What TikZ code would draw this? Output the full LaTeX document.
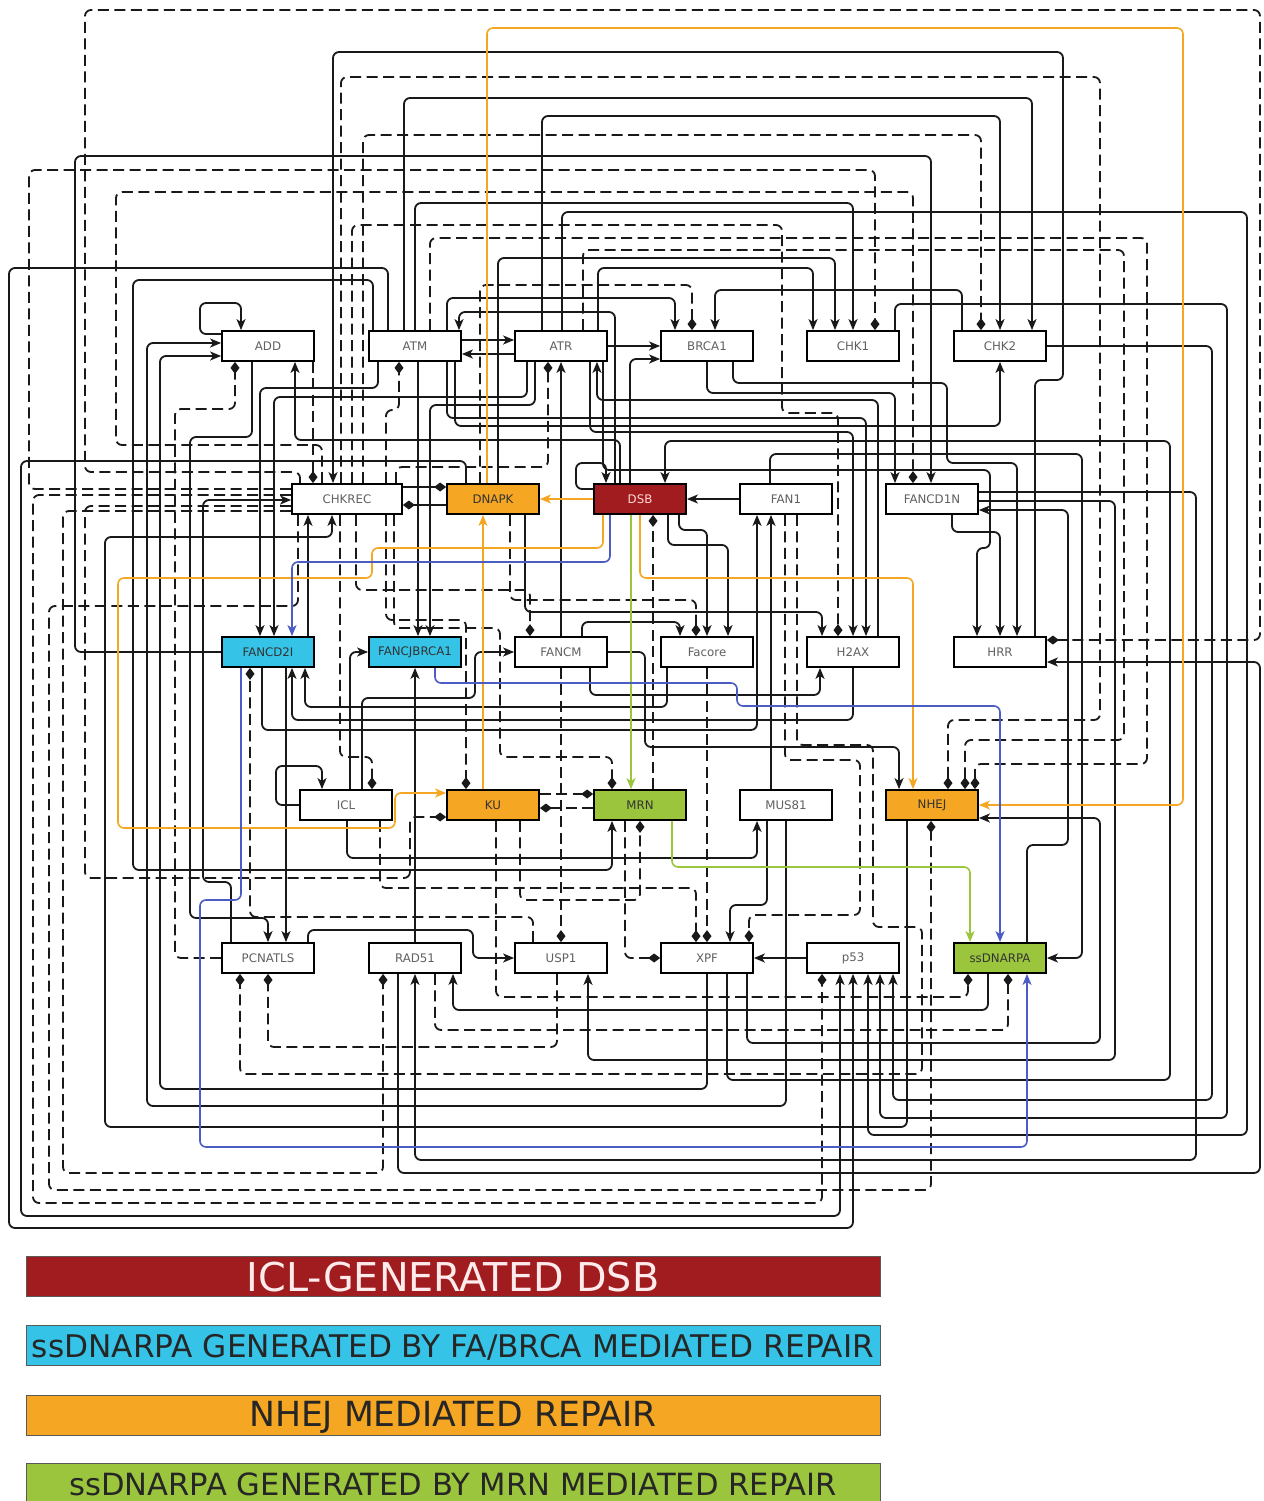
\documentclass[tikz,border=0pt]{standalone}
\usepackage{fontspec}
\newfontfamily\dv{DejaVu Sans}
\usetikzlibrary{arrows.meta,backgrounds}
\definecolor{dsbred}{HTML}{A01C1E}
\definecolor{orng}{HTML}{F5A623}
\definecolor{cyn}{HTML}{35C3E8}
\definecolor{grn}{HTML}{9BC53D}
\definecolor{blu}{HTML}{4B5CC4}
\definecolor{txtgray}{HTML}{606060}
\tikzset{
  nbox/.style={draw=black,line width=1.8pt,fill=white,minimum width=92pt,minimum height=30pt,inner sep=0pt,
    font=\dv\fontsize{11.8}{12}\selectfont,text=txtgray},
  e/.style={line width=1.8pt,rounded corners=6pt,black!90},
  d/.style={e,dash pattern=on 11pt off 5.5pt},
  act/.style={-{Stealth[length=11pt,width=9pt,inset=3pt]}},
  inh/.style={-{Diamond[length=12pt,width=9pt]}},
  og/.style={e,orng,line width=1.6pt,act},
  bl/.style={e,blu,line width=1.6pt,act},
  gr/.style={e,grn,line width=1.6pt,act},
  legbar/.style={draw=gray!70!black,line width=1pt,minimum width=854pt,minimum height=40pt,inner sep=0pt},
}
\begin{document}
\begin{tikzpicture}[x=1pt,y=-1pt]
\useasboundingbox (0,0) rectangle (1263,1501);
% nodes
\node[nbox] (ADD) at (268,346) {ADD};
\node[nbox] (ATM) at (415,346) {ATM};
\node[nbox] (ATR) at (561,346) {ATR};
\node[nbox] (BRCA1) at (707,346) {BRCA1};
\node[nbox] (CHK1) at (853,346) {CHK1};
\node[nbox] (CHK2) at (1000,346) {CHK2};
\node[nbox,minimum width=110pt] (CHKREC) at (347,499) {CHKREC};
\node[nbox,fill=orng,text=black!80] (DNAPK) at (493,499) {DNAPK};
\node[nbox,fill=dsbred,text=red!15] (DSB) at (640,499) {DSB};
\node[nbox] (FAN1) at (786,499) {FAN1};
\node[nbox] (FANCD1N) at (932,499) {FANCD1N};
\node[nbox,fill=cyn,text=black!80] (FANCD2I) at (268,652) {FANCD2I};
\node[nbox,fill=cyn,text=black!80] (FANCJBRCA1) at (415,652) {FANCJBRCA1};
\node[nbox] (FANCM) at (561,652) {FANCM};
\node[nbox] (Facore) at (707,652) {Facore};
\node[nbox] (H2AX) at (853,652) {H2AX};
\node[nbox] (HRR) at (1000,652) {HRR};
\node[nbox] (ICL) at (346,805) {ICL};
\node[nbox,fill=orng,text=black!80] (KU) at (493,805) {KU};
\node[nbox,fill=grn,text=black!80] (MRN) at (640,805) {MRN};
\node[nbox] (MUS81) at (786,805) {MUS81};
\node[nbox,fill=orng,text=black!80] (NHEJ) at (932,805) {NHEJ};
\node[nbox] (PCNATLS) at (268,958) {PCNATLS};
\node[nbox] (RAD51) at (415,958) {RAD51};
\node[nbox] (USP1) at (561,958) {USP1};
\node[nbox] (XPF) at (707,958) {XPF};
\node[nbox] (p53) at (853,958) {p53};
\node[nbox,fill=grn,text=black!80] (ssDNARPA) at (1000,958) {ssDNARPA};

\begin{scope}[on background layer]
\fill[white] (0,0) rectangle (1263,1501);
% ---- top loops
\draw[d,inh] (300,0 |- CHKREC.north) -- (300,472) -- (85,472) -- (85,10) -- (1260,10) -- (1260,640) -- (HRR.east |- 0,640);
\draw[e,act] (1035,0 |- HRR.north) -- (1035,380) -- (1063,380) -- (1063,52) -- (333,52) -- (333,0 |- CHKREC.north);
\draw[d,inh] (341,0 |- CHKREC.north) -- (341,77) -- (1100,77) -- (1100,720) -- (948,720) -- (948,0 |- NHEJ.north);
\draw[e,act] (404,0 |- ATM.north) -- (404,98) -- (1032,98) -- (1032,0 |- CHK2.north);
\draw[e,act] (542,0 |- ATR.north) -- (542,116) -- (1000,116) -- (CHK2.north);
\draw[d,inh] (363,0 |- CHKREC.north) -- (363,135) -- (981,135) -- (981,0 |- CHK2.north);
\draw[e,act] (FANCD2I.west) -- (75,652) -- (75,156) -- (931,156) -- (931,0 |- FANCD1N.north);
\draw[d,inh] (CHKREC.west |- 0,489) -- (29,489) -- (29,170) -- (875,170) -- (875,0 |- CHK1.north);
\draw[d,inh] (322,0 |- CHKREC.north) -- (322,445) -- (116,445) -- (116,192) -- (913,192) -- (913,0 |- FANCD1N.north);
\draw[e,act] (415,0 |- ATM.north) -- (415,203) -- (853,203) -- (CHK1.north);
\draw[e,act] (562,0 |- ATR.north) -- (562,212) -- (1247,212) -- (1247,1135) -- (868,1135) -- (868,0 |- p53.south);
\draw[d,inh] (352,0 |- CHKREC.north) -- (352,225) -- (782,225) -- (782,413) -- (838,413) -- (838,0 |- H2AX.north);
\draw[d,inh] (583,0 |- ATR.north) -- (583,250) -- (1124,250) -- (1124,740) -- (965,740) -- (965,0 |- NHEJ.north);
\draw[d,inh] (430,0 |- ATM.north) -- (430,238) -- (1147,238) -- (1147,764) -- (975,764) -- (975,0 |- NHEJ.north);
\draw[e,act] (498,0 |- DNAPK.north) -- (498,258) -- (835,258) -- (835,0 |- CHK1.north);
\draw[e,act] (598,0 |- ATR.north) -- (598,268) -- (813,268) -- (813,0 |- CHK1.north);
\draw[e,act] (388,0 |- ATM.north) -- (388,268) -- (9,268) -- (9,1228) -- (853,1228) -- (p53.south);
\draw[e,act] (373,0 |- ATM.north) -- (373,280) -- (133,280) -- (133,870) -- (612,870) -- (612,0 |- MRN.south);
\draw[d,inh] (480,0 |- DNAPK.north) -- (480,285) -- (692,285) -- (692,0 |- BRCA1.north);
\draw[e,act] (962,0 |- CHK2.north) -- (962,290) -- (715,290) -- (715,0 |- BRCA1.north);
\draw[e,act] (447,0 |- ATM.north) -- (447,298) -- (675,298) -- (675,0 |- BRCA1.north);
\draw[e,act] (895,0 |- CHK1.north) -- (895,304) -- (1227,304) -- (1227,1118) -- (880,1118) -- (880,0 |- p53.south);
\draw[e,act] (CHK2.east) -- (1212,346) -- (1212,1100) -- (893,1100) -- (893,0 |- p53.south);
% ---- row 1 / row 2 local
\draw[e,act] (615,0 |- DSB.north) -- (615,312) -- (459,312) -- (459,0 |- ATM.north);
\draw[e,act] (620,0 |- DSB.north) -- (620,440) -- (295,440) -- (295,0 |- ADD.south);
\draw[e,act] (630,0 |- DSB.north) -- (630,359) -- (BRCA1.west |- 0,359);
\draw[e,act] (DSB.west |- 0,489) -- (576,489) -- (576,463) -- (606,463) -- (606,0 |- DSB.north);
\draw[e,act] (ADD.west |- 0,334) -- (200,334) -- (200,303) -- (241,303) -- (241,0 |- ADD.north);
\draw[e,act] (ATM.east |- 0,340) -- (ATR.west |- 0,340);
\draw[e,act] (ATR.west |- 0,354) -- (ATM.east |- 0,354);
\draw[e,act] (ATR.east |- 0,346) -- (BRCA1.west |- 0,346);
\draw[e,act] (FAN1.west) -- (DSB.east);
\draw[d,inh] (313,0 |- ADD.south) -- (313,0 |- CHKREC.north);
\draw[d,inh] (386,0 |- CHKREC.north) -- (386,410) -- (399,410) -- (399,0 |- ATM.south);
\draw[d,inh] (396,0 |- CHKREC.north) -- (396,467) -- (548,467) -- (548,0 |- ATR.south);
\draw[e,inh] (CHKREC.east |- 0,487) -- (DNAPK.west |- 0,487);
\draw[e,inh] (DNAPK.west |- 0,505) -- (CHKREC.east |- 0,505);
\draw[e,act] (418,0 |- ATM.south) -- (418,0 |- FANCJBRCA1.north);
\draw[e,act] (535,0 |- ATR.south) -- (535,405) -- (430,405) -- (430,0 |- FANCJBRCA1.north);
\draw[e,act] (527,0 |- ATR.south) -- (527,397) -- (274,397) -- (274,0 |- FANCD2I.north);
\draw[e,act] (378,0 |- ATM.south) -- (378,388) -- (260,388) -- (260,0 |- FANCD2I.north);
\draw[e,act] (447,0 |- ATM.south) -- (447,418) -- (866,418) -- (866,0 |- H2AX.north);
\draw[e,act] (590,0 |- ATR.south) -- (590,432) -- (853,432) -- (853,0 |- H2AX.north);
\draw[e,act] (525,0 |- DNAPK.south) -- (525,612) -- (822,612) -- (822,0 |- H2AX.north);
\draw[e,act] (455,0 |- ATM.south) -- (455,426) -- (1000,426) -- (1000,0 |- CHK2.south);
\draw[e,act] (878,0 |- H2AX.north) -- (878,400) -- (597,400) -- (597,0 |- ATR.south);
\draw[e,act] (707,0 |- BRCA1.south) -- (707,393) -- (895,393) -- (895,0 |- FANCD1N.north);
\draw[e,act] (733,0 |- BRCA1.south) -- (733,383) -- (947,383) -- (947,463) -- (1017,463) -- (1017,0 |- HRR.north);
\draw[e,act] (952,0 |- FANCD1N.south) -- (952,532) -- (1000,532) -- (1000,0 |- HRR.north);
\draw[e,act] (603,0 |- ATR.south) -- (603,470) -- (990,470) -- (990,548) -- (977,548) -- (977,0 |- HRR.north);
\draw[e,act] (561,0 |- FANCM.north) -- (561,0 |- ATR.south);
\draw[e,act] (582,0 |- FANCM.north) -- (582,622) -- (680,622) -- (680,0 |- Facore.north);
\draw[d,inh] (510,0 |- DNAPK.south) -- (510,600) -- (696,600) -- (696,0 |- Facore.north);
\draw[e,act] (679,0 |- DSB.south) -- (679,530) -- (707,530) -- (707,0 |- Facore.north);
\draw[e,act] (668,0 |- DSB.south) -- (668,545) -- (728,545) -- (728,0 |- Facore.north);
\draw[d,inh] (653,0 |- MRN.north) -- (653,0 |- DSB.south);
\draw[d,inh] (356,0 |- CHKREC.south) -- (356,590) -- (530,590) -- (530,0 |- FANCM.north);
% ---- left side / CHKREC
\draw[e,act] (231,0 |- PCNATLS.north) -- (231,882) -- (203,882) -- (203,500) -- (CHKREC.west |- 0,500);
\draw[d,inh] (CHKREC.west |- 0,495) -- (33,495) -- (33,1203) -- (822,1203) -- (822,0 |- p53.south);
\draw[d,inh] (CHKREC.west |- 0,506) -- (85,506) -- (85,878) -- (410,878) -- (410,817) -- (KU.west |- 0,817);
\draw[d,inh] (CHKREC.west |- 0,511) -- (63,511) -- (63,1173) -- (383,1173) -- (383,0 |- RAD51.south);
\draw[d,inh] (298,0 |- CHKREC.south) -- (298,606) -- (49,606) -- (49,1190) -- (931,1190) -- (931,0 |- NHEJ.south);
\draw[e,act] (466,0 |- DNAPK.north) -- (466,461) -- (21,461) -- (21,1216) -- (840,1216) -- (840,0 |- p53.south);
\draw[e,act] (MUS81.south) -- (786,1106) -- (147,1106) -- (147,343) -- (ADD.west |- 0,343);
\draw[e,act] (707,0 |- XPF.south) -- (707,1089) -- (160,1089) -- (160,356) -- (ADD.west |- 0,356);
\draw[d,inh] (PCNATLS.west) -- (175,958) -- (175,409) -- (235,409) -- (235,0 |- ADD.south);
\draw[e,act] (252,0 |- ADD.south) -- (252,437) -- (190,437) -- (190,918) -- (268,918) -- (268,0 |- PCNATLS.north);
\draw[e,act] (907,0 |- NHEJ.south) -- (907,1127) -- (105,1127) -- (105,537) -- (332,537) -- (332,0 |- CHKREC.south);
\draw[e,act] (308,0 |- FANCD2I.north) -- (308,0 |- CHKREC.south);
% ---- middle
\draw[d,inh] (340,0 |- CHKREC.south) -- (340,757) -- (372,757) -- (372,0 |- ICL.north);
\draw[d,inh] (386,0 |- CHKREC.south) -- (386,620) -- (466,620) -- (466,0 |- KU.north);
\draw[d,inh] (394,0 |- CHKREC.south) -- (394,628) -- (500,628) -- (500,757) -- (612,757) -- (612,0 |- MRN.north);
\draw[e,act] (ICL.west) -- (276,805) -- (276,766) -- (322,766) -- (322,0 |- ICL.north);
\draw[e,act] (350,0 |- ICL.north) -- (350,652) -- (FANCJBRCA1.west);
\draw[e,act] (362,0 |- ICL.north) -- (362,698) -- (475,698) -- (475,652) -- (FANCM.west);
\draw[e,act] (347,0 |- ICL.south) -- (347,858) -- (757,858) -- (757,0 |- MUS81.south);
\draw[e,act] (415,0 |- RAD51.north) -- (415,0 |- FANCJBRCA1.south);
\draw[e,act] (771,0 |- MUS81.north) -- (771,0 |- FAN1.south);
\draw[e,act] (262,0 |- FANCD2I.south) -- (262,730) -- (757,730) -- (757,0 |- FAN1.south);
\draw[e,act] (667,0 |- Facore.south) -- (667,707) -- (305,707) -- (305,0 |- FANCD2I.south);
\draw[e,act] (853,0 |- H2AX.south) -- (853,720) -- (292,720) -- (292,0 |- FANCD2I.south);
\draw[e,act] (590,0 |- FANCM.south) -- (590,695) -- (820,695) -- (820,0 |- H2AX.south);
\draw[e,act] (FANCM.east) -- (645,652) -- (645,747) -- (899,747) -- (899,0 |- NHEJ.north);
\draw[d,inh] (MRN.west |- 0,808) -- (KU.east |- 0,808);
\draw[d,inh] (KU.east |- 0,794) -- (MRN.west |- 0,794);
\draw[d,inh] (520,0 |- KU.south) -- (520,900) -- (640,900) -- (640,0 |- MRN.south);
% ---- bottom
\draw[e,act] (286,0 |- FANCD2I.south) -- (286,0 |- PCNATLS.north);
\draw[d,inh] (533,0 |- USP1.north) -- (533,917) -- (250,917) -- (250,0 |- FANCD2I.south);
\draw[e,act] (308,0 |- PCNATLS.north) -- (308,930) -- (473,930) -- (473,958) -- (USP1.west);
\draw[d,inh] (561,0 |- FANCM.south) -- (561,0 |- USP1.north);
\draw[d,inh] (707,0 |- Facore.south) -- (707,0 |- XPF.north);
\draw[d,inh] (380,0 |- ICL.south) -- (380,888) -- (696,888) -- (696,0 |- XPF.north);
\draw[e,act] (767,0 |- MUS81.south) -- (767,905) -- (730,905) -- (730,0 |- XPF.north);
\draw[d,inh] (785,0 |- FAN1.south) -- (785,760) -- (860,760) -- (860,915) -- (749,915) -- (749,0 |- XPF.north);
\draw[d,inh] (625,0 |- MRN.south) -- (625,958) -- (XPF.west);
\draw[e,act] (p53.west) -- (XPF.east);
\draw[d,inh] (557,0 |- USP1.south) -- (557,1047) -- (268,1047) -- (268,0 |- PCNATLS.south);
\draw[d,inh] (797,0 |- FAN1.south) -- (797,745) -- (873,745) -- (873,927) -- (922,927) -- (922,1074) -- (240,1074) -- (240,0 |- PCNATLS.south);
\draw[e,act] (FANCD1N.east |- 0,492) -- (1196,492) -- (1196,1160) -- (415,1160) -- (415,0 |- RAD51.south);
\draw[e,act] (398,0 |- RAD51.south) -- (398,1173) -- (1260,1173) -- (1260,662) -- (HRR.east |- 0,662);
\draw[e,act] (727,0 |- XPF.south) -- (727,1080) -- (1170,1080) -- (1170,441) -- (665,441) -- (665,0 |- DSB.north);
\draw[e,act] (FANCD1N.east |- 0,501) -- (1115,501) -- (1115,1060) -- (588,1060) -- (588,0 |- USP1.south);
\draw[e,act] (747,0 |- XPF.south) -- (747,1043) -- (1100,1043) -- (1100,818) -- (NHEJ.east |- 0,818);
\draw[e,act] (1027,0 |- ssDNARPA.north) -- (1027,845) -- (1068,845) -- (1068,510) -- (FANCD1N.east |- 0,510);
\draw[e,act] (770,0 |- FAN1.north) -- (770,454) -- (1082,454) -- (1082,958) -- (ssDNARPA.east);
\draw[d,inh] (496,0 |- KU.south) -- (496,997) -- (968,997) -- (968,0 |- ssDNARPA.south);
\draw[e,act] (988,0 |- ssDNARPA.south) -- (988,1010) -- (453,1010) -- (453,0 |- RAD51.south);
\draw[d,inh] (435,0 |- RAD51.south) -- (435,1030) -- (1008,1030) -- (1008,0 |- ssDNARPA.south);
% ---- coloured pathways
\draw[og] (DSB.west) -- (DNAPK.east);
\draw[og] (487,0 |- DNAPK.north) -- (487,28) -- (1183,28) -- (1183,805) -- (NHEJ.east);
\draw[og] (483,0 |- KU.north) -- (483,0 |- DNAPK.south);
\draw[og] (640,0 |- DSB.south) -- (640,578) -- (913,578) -- (913,0 |- NHEJ.north);
\draw[og] (603,0 |- DSB.south) -- (603,548) -- (372,548) -- (372,578) -- (118,578) -- (118,828) -- (395,828) -- (395,793) -- (KU.west |- 0,793);
\draw[bl] (610,0 |- DSB.south) -- (610,562) -- (292,562) -- (292,0 |- FANCD2I.north);
\draw[gr] (631,0 |- DSB.south) -- (631,0 |- MRN.north);
\draw[bl] (435,0 |- FANCJBRCA1.south) -- (435,683) -- (737,683) -- (737,706) -- (1000,706) -- (ssDNARPA.north);
\draw[bl] (241,0 |- FANCD2I.south) -- (241,900) -- (200,900) -- (200,1147) -- (1027,1147) -- (1027,0 |- ssDNARPA.south);
\draw[gr] (672,0 |- MRN.south) -- (672,867) -- (970,867) -- (970,0 |- ssDNARPA.north);
\end{scope}

% legend
\node[legbar,fill=dsbred] (L1) at (453,1276.5) {};
\node[legbar,fill=cyn] (L2) at (453,1345.5) {};
\node[legbar,fill=orng] (L3) at (453,1415) {};
\node[legbar,fill=grn,minimum height=44pt] (L4) at (453,1485) {};
\node[anchor=base,inner sep=0pt,text=red!8,font=\dv\fontsize{39.7}{40}\selectfont] (T1) at (453,1291) {ICL-GENERATED DSB};
\node[anchor=base,inner sep=0pt,text=black!85,font=\dv\fontsize{31.2}{32}\selectfont] (T2) at (453,1357) {ssDNARPA GENERATED BY FA/BRCA MEDIATED REPAIR};
\node[anchor=base,inner sep=0pt,text=black!85,font=\dv\fontsize{34.6}{36}\selectfont] (T3) at (453,1426) {NHEJ MEDIATED REPAIR};
\node[anchor=base,inner sep=0pt,text=black!85,font=\dv\fontsize{30.6}{32}\selectfont] (T4) at (453,1495) {ssDNARPA GENERATED BY MRN MEDIATED REPAIR};
\end{tikzpicture}
\end{document}
